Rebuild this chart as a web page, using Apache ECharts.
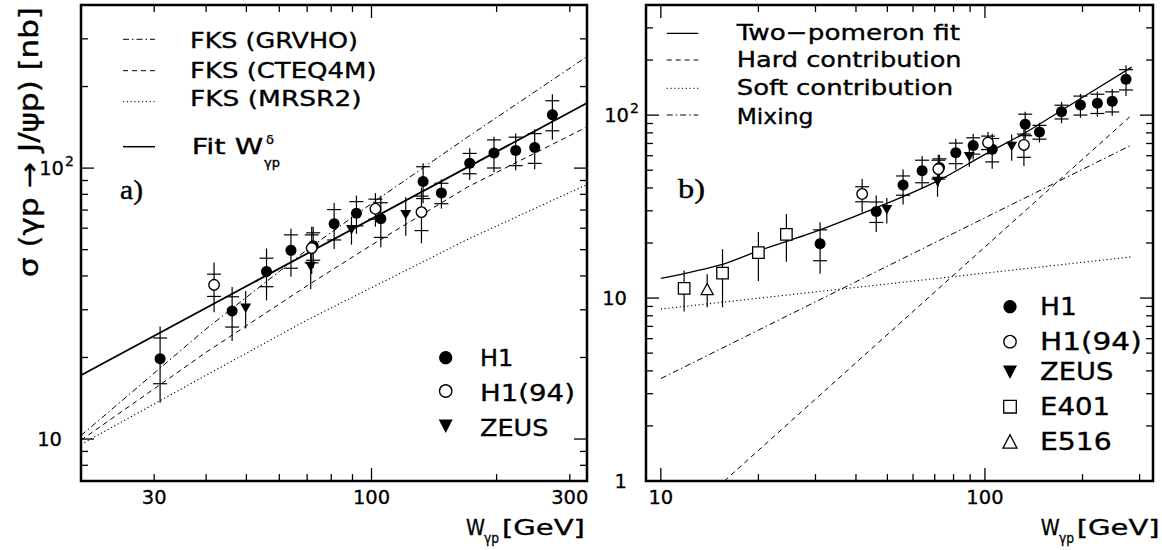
<!DOCTYPE html>
<html><head><meta charset="utf-8">
<script src="https://cdn.jsdelivr.net/npm/echarts@6/dist/echarts.min.js"></script>
<style>html,body{margin:0;padding:0;background:#fff}#c{width:1162px;height:550px}</style>
</head><body><div id="c"></div>
<script>
// ---------------- DATA ----------------
// H1 (filled circles): W [GeV], sigma [nb], stat error, total error
const h1W    = [31.0, 46.2, 55.9, 64.0, 72.4, 81.3, 92.0, 105.3, 133.1, 147.3, 172.3, 197.1, 222.3, 247.0, 272.4];
const h1Sig  = [19.8, 29.7, 41.5, 49.7, 51.7, 62.3, 68.2, 65.0, 89.2, 80.9, 104.3, 113.6, 116.1, 119.1, 157.3];
const h1Stat = [3.8, 3.8, 5.0, 7.0, 6.0, 8.0, 7.0, 9.5, 12, 7, 9, 13.5, 14, 15, 20];
const h1Tot  = [6.2, 6.7, 9.0, 10, 9, 12, 11, 14, 15, 10, 14, 17, 18, 20, 30];
// H1(94) (open circles)
const h194W    = [41.8, 71.8, 102.2, 131.9];
const h194Sig  = [37.1, 50.7, 70.8, 68.8];
const h194Stat = [3.5, 6, 6, 10];
const h194Tot  = [7.7, 10, 10, 16];
// ZEUS (down triangles)
const zeusW   = [49.8, 71.4, 89.5, 120.9];
const zeusSig = [30.4, 43.3, 59.2, 67.3];
const zeusErr = [4.8, 7.5, 7, 11];
// E401 (open squares)
const e401W   = [11.8, 15.5, 20.0, 24.4];
const e401Sig = [11.3, 13.7, 17.7, 22.3];
const e401Err = [2.85, 4.8, 5.3, 6.5];
// E516 (open triangle)
const e516W   = [13.9];
const e516Sig = [11.2];
const e516Err = [2.3];

// Curves, panel a)  [W, sigma]
const fksGrvho = [[20,10.3],[40,25.5],[70,50],[100,74],[170,130],[330,258]];
const fksCteq  = [[20,9.9],[40,20.9],[70,36.8],[100,52],[170,85],[330,142]];
const fksMrsr  = [[20,9.55],[40,17.2],[70,27.5],[100,36.2],[170,54.5],[330,87]];
const fitDelta = [[20,17.2],[330,174]];
// Curves, panel b)
const twoPom  = [[10,12.8],[15.5,15.3],[20,18.1],[31,23.6],[50,33],[72,44],[100,61],[133,80],[172,106],[283.6,183]];
const hardC   = [[15.7,1],[283.6,100]];
const softC   = [[10,8.71],[283.6,16.8]];
const mixC    = [[10,3.63],[283.6,68.7]];

// Axes ranges and ticks
const leftXRange = [20, 330], leftYRange = [7, 400];
const rightXRange = [9, 330], rightYRange = [1, 400];
const leftXMinor = [30,40,50,60,70,80,90,200,300];
const leftXMajor = [100];
const leftYMinor = [8,9,20,30,40,50,60,70,80,90,200,300];
const leftYMajor = [10,100];
const rightXMinor = [20,30,40,50,60,70,80,90,200,300];
const rightXMajor = [10,100];
const rightYMinor = [2,3,4,5,6,7,8,9,20,30,40,50,60,70,80,90,200,300];
const rightYMajor = [10,100];
const leftXLabelVals = [30,100,300];
const leftXLabelText = ['30','100','300'];
const rightXLabelVals = [10,100];
const rightXLabelText = ['10','100'];
const leftYLabelVals = [10,100];
const leftYLabelText = ['10','10²'];
const rightYLabelVals = [1,10,100];
const rightYLabelText = ['1','10','10²'];

// ---------------- HELPERS ----------------
const FONT = '"DejaVu Sans", sans-serif';
const SERIF = '"Liberation Serif", serif';
const ctx2d = document.createElement('canvas').getContext('2d');
function measure(str, size, fam) { ctx2d.font = size + 'px ' + (fam || FONT); return ctx2d.measureText(str).width; }
function T(x, y, str, size, width, opts) {
  opts = opts || {};
  const sx = width ? width / measure(str, size, opts.family) : 1;
  return { type: 'text', x: x, y: y, scaleX: sx, rotation: opts.rotation || 0, z: 20,
    style: { text: str, fontSize: size, fontFamily: opts.family || FONT, fill: '#000',
             stroke: '#000', lineWidth: 0.35,
             align: opts.align || 'left', verticalAlign: 'middle' } };
}
function L(x1, y1, x2, y2, dash, w) {
  return { type: 'line', z: 20, shape: { x1, y1, x2, y2 }, style: { stroke: '#000', lineWidth: w || 1, lineDash: dash || null } };
}
const DASHDOT = [6, 3, 1.5, 3], DASH = [5, 4], DOT = [1.2, 2.6];

function ticks(gi, vals, major, dir, fixed) {
  return { type: 'custom', xAxisIndex: gi, yAxisIndex: gi, silent: true, z: 6, clip: false,
    data: vals.map(v => dir === 'x' ? [v, fixed] : [fixed, v]),
    renderItem(params, api) {
      const cs = params.coordSys, len = major ? 13 : 7, st = { stroke: '#000', lineWidth: 1.3 };
      const p = api.coord([api.value(0), api.value(1)]);
      if (dir === 'x') {
        const x = p[0], b = cs.y + cs.height, t = cs.y;
        return { type: 'group', children: [
          { type: 'line', shape: { x1: x, y1: b, x2: x, y2: b - len }, style: st },
          { type: 'line', shape: { x1: x, y1: t, x2: x, y2: t + len }, style: st } ] };
      }
      const y = p[1], l = cs.x, r = cs.x + cs.width;
      return { type: 'group', children: [
        { type: 'line', shape: { x1: l, y1: y, x2: l + len, y2: y }, style: st },
        { type: 'line', shape: { x1: r, y1: y, x2: r - len, y2: y }, style: st } ] };
    } };
}
function xLabels(gi, vals, texts, fixed) {
  return { type: 'custom', xAxisIndex: gi, yAxisIndex: gi, silent: true, z: 6, clip: false,
    data: vals.map(v => [v, fixed]),
    renderItem(params, api) {
      const cs = params.coordSys, p = api.coord([api.value(0), api.value(1)]);
      return { type: 'text', x: p[0], y: cs.y + cs.height + 6,
        style: { text: texts[params.dataIndex], fontSize: 19.5, fontFamily: FONT, fill: '#000', stroke: '#000', lineWidth: 0.3, align: 'center', verticalAlign: 'top' } };
    } };
}
function yLabels(gi, vals, texts, fixed) {
  return { type: 'custom', xAxisIndex: gi, yAxisIndex: gi, silent: true, z: 6, clip: false,
    data: vals.map(v => [fixed, v]),
    renderItem(params, api) {
      const cs = params.coordSys, p = api.coord([api.value(0), api.value(1)]);
      const t = texts[params.dataIndex];
      const hasSup = t.endsWith('²');
      const base = hasSup ? t.slice(0, -1) : t;
      const ch = [{ type: 'text', x: cs.x - (hasSup ? 17 : 19), y: p[1],
        style: { text: base, fontSize: 19.5, fontFamily: FONT, fill: '#000', stroke: '#000', lineWidth: 0.3, align: 'right', verticalAlign: 'middle' } }];
      if (hasSup) ch.push({ type: 'text', x: cs.x - 16, y: p[1] - 7,
        style: { text: '2', fontSize: 14, fontFamily: FONT, fill: '#000', stroke: '#000', lineWidth: 0.3, align: 'left', verticalAlign: 'middle' } });
      return { type: 'group', children: ch };
    } };
}
function errBars(gi, W, S, stat, tot) {
  return { type: 'custom', xAxisIndex: gi, yAxisIndex: gi, silent: true, z: 3, clip: true,
    data: W.map((w, i) => [w, S[i], stat ? stat[i] : 0, tot[i]]),
    renderItem(params, api) {
      const w = api.value(0), s = api.value(1), st = api.value(2), tt = api.value(3);
      const sty = { stroke: '#000', lineWidth: 1.2 };
      const a = api.coord([w, s + tt]), b = api.coord([w, s - tt]);
      const ch = [{ type: 'line', shape: { x1: a[0], y1: a[1], x2: b[0], y2: b[1] }, style: sty }];
      if (st > 0) {
        const u = api.coord([w, s + st]), d = api.coord([w, s - st]);
        ch.push({ type: 'line', shape: { x1: u[0] - 7, y1: u[1], x2: u[0] + 7, y2: u[1] }, style: sty });
        ch.push({ type: 'line', shape: { x1: d[0] - 7, y1: d[1], x2: d[0] + 7, y2: d[1] }, style: sty });
      }
      return { type: 'group', children: ch };
    } };
}
function pts(W, S) { return W.map((w, i) => [w, S[i]]); }
function scat(gi, W, S, sym, size, filled, rot) {
  return { type: 'scatter', xAxisIndex: gi, yAxisIndex: gi, data: pts(W, S), symbol: sym, symbolSize: size,
    symbolRotate: rot || 0, silent: true, z: 4,
    itemStyle: filled ? { color: '#000', opacity: 1 } : { color: '#fff', borderColor: '#000', borderWidth: 1.3, opacity: 1 } };
}
function curve(gi, data, type, width, smooth) {
  return { type: 'line', xAxisIndex: gi, yAxisIndex: gi, data, showSymbol: false, symbol: 'none', silent: true,
    smooth: smooth || false, clip: true, z: 2, lineStyle: { color: '#000', width, type } };
}

// ---------------- GRAPHIC (legends, titles) ----------------
function mkCircle(cx, cy, filled) {
  return { type: 'circle', z: 20, shape: { cx, cy, r: filled ? 6.6 : 6.2 },
    style: filled ? { fill: '#000' } : { fill: '#fff', stroke: '#000', lineWidth: 1.3 } };
}
function mkTriDown(cx, cy) {
  return { type: 'polygon', z: 20, shape: { points: [[cx - 7, cy - 6.5], [cx + 7, cy - 6.5], [cx, cy + 7]] }, style: { fill: '#000' } };
}
function mkTriUp(cx, cy) {
  return { type: 'polygon', z: 20, shape: { points: [[cx - 7, cy + 6.5], [cx + 7, cy + 6.5], [cx, cy - 7]] }, style: { fill: '#fff', stroke: '#000', lineWidth: 1.3 } };
}
function mkSquare(cx, cy) {
  return { type: 'rect', z: 20, shape: { x: cx - 6.3, y: cy - 6.3, width: 12.6, height: 12.6 }, style: { fill: '#fff', stroke: '#000', lineWidth: 1.3 } };
}

const graphics = [
  // panel a legend (lines)
  L(123, 39.3, 155, 39.3, DASHDOT), T(190, 40.5, 'FKS (GRVHO)', 21, 168),
  L(123, 70.7, 155, 70.7, DASH),    T(190, 70.5, 'FKS (CTEQ4M)', 21, 186.7),
  L(123, 101.7, 155, 101.7, DOT),   T(190, 99, 'FKS (MRSR2)', 21, 171.7),
  L(123, 146.7, 155, 146.7, null, 1.5), T(191.7, 147, 'Fit W', 21, 71.6),
  T(266, 139, 'δ', 13), T(264, 162, 'γp', 13),
  T(120, 190, 'a)', 27, 23, { family: SERIF }),
  // panel a legend (markers)
  mkCircle(445.7, 357.7, true), T(480, 358, 'H1', 23, 33.3),
  mkCircle(445.7, 391, false),  T(480, 393, 'H1(94)', 23, 95),
  mkTriDown(445.7, 426),        T(480, 427.5, 'ZEUS', 23, 68.3),
  // y title
  T(29, 142, 'σ (γp → J/ψp) [nb]', 26, 270, { rotation: Math.PI / 2, align: 'center' }),
  // x titles
  T(466, 527.5, 'W', 22, 19), T(484, 538, 'γp', 14, 15), T(502, 527.5, '[GeV]', 22, 83),
  T(1040.7, 527.5, 'W', 22, 19), T(1059, 538, 'γp', 14, 15), T(1076.7, 527.5, '[GeV]', 22, 83),
  // panel b legend (lines)
  L(666.7, 33.3, 698.3, 33.3, null, 1.3), T(736.7, 33, 'Two−pomeron fit', 21.5, 223.3),
  L(666.7, 60, 698.3, 60, DASH),          T(736.7, 60, 'Hard contribution', 21.5, 225),
  L(666.7, 88.3, 698.3, 88.3, DOT),       T(736.7, 87.5, 'Soft contribution', 21.5, 216.7),
  L(666.7, 115, 698.3, 115, DASHDOT),     T(736.7, 116, 'Mixing', 21.5, 76.7),
  T(678, 188, 'b)', 27, 27, { family: SERIF }),
  // panel b legend (markers)
  mkCircle(1010, 306.7, true), T(1040, 306.7, 'H1', 24, 36.7),
  mkCircle(1010, 341.7, false), T(1040, 341.7, 'H1(94)', 24, 101.7),
  mkTriDown(1010, 372),        T(1040, 372, 'ZEUS', 24, 73.3),
  mkSquare(1010, 406.7),       T(1040, 406.7, 'E401', 24, 70),
  mkTriUp(1010, 441.7),        T(1040, 441.7, 'E516', 24, 71.7)
];

// ---------------- OPTION ----------------
const axisCommon = { type: 'log', logBase: 10, show: false, splitLine: { show: false } };
const option = {
  animation: false,
  backgroundColor: '#fff',
  grid: [
    { left: 81, top: 5, width: 506, height: 476, show: true, borderColor: '#000', borderWidth: 2.5, backgroundColor: 'transparent' },
    { left: 646, top: 5, width: 507, height: 476, show: true, borderColor: '#000', borderWidth: 2.5, backgroundColor: 'transparent' }
  ],
  xAxis: [
    Object.assign({ gridIndex: 0, min: leftXRange[0], max: leftXRange[1] }, axisCommon),
    Object.assign({ gridIndex: 1, min: rightXRange[0], max: rightXRange[1] }, axisCommon)
  ],
  yAxis: [
    Object.assign({ gridIndex: 0, min: leftYRange[0], max: leftYRange[1] }, axisCommon),
    Object.assign({ gridIndex: 1, min: rightYRange[0], max: rightYRange[1] }, axisCommon)
  ],
  series: [
    // panel a
    curve(0, fksGrvho, DASHDOT, 1),
    curve(0, fksCteq, DASH, 1),
    curve(0, fksMrsr, DOT, 1.1),
    curve(0, fitDelta, 'solid', 1.8),
    errBars(0, h1W, h1Sig, h1Stat, h1Tot),
    errBars(0, h194W, h194Sig, h194Stat, h194Tot),
    errBars(0, zeusW, zeusSig, null, zeusErr),
    scat(0, h1W, h1Sig, 'circle', 11, true),
    scat(0, h194W, h194Sig, 'circle', 10.5, false),
    scat(0, zeusW, zeusSig, 'triangle', [11, 9.5], true, 180),
    ticks(0, leftXMinor, false, 'x', leftYRange[0]),
    ticks(0, leftXMajor, true, 'x', leftYRange[0]),
    ticks(0, leftYMinor, false, 'y', leftXRange[0]),
    ticks(0, leftYMajor, true, 'y', leftXRange[0]),
    xLabels(0, leftXLabelVals, leftXLabelText, leftYRange[0]),
    yLabels(0, leftYLabelVals, leftYLabelText, leftXRange[0]),
    // panel b
    curve(1, twoPom, 'solid', 1.3, 0.3),
    curve(1, hardC, DASH, 1),
    curve(1, softC, DOT, 1.1),
    curve(1, mixC, DASHDOT, 1),
    errBars(1, h1W, h1Sig, h1Stat, h1Tot),
    errBars(1, h194W, h194Sig, h194Stat, h194Tot),
    errBars(1, zeusW, zeusSig, null, zeusErr),
    errBars(1, e401W, e401Sig, null, e401Err),
    errBars(1, e516W, e516Sig, null, e516Err),
    scat(1, h1W, h1Sig, 'circle', 11, true),
    scat(1, h194W, h194Sig, 'circle', 10.5, false),
    scat(1, zeusW, zeusSig, 'triangle', [11, 9.5], true, 180),
    scat(1, e401W, e401Sig, 'rect', 11.5, false),
    scat(1, e516W, e516Sig, 'triangle', [12, 11], false),
    ticks(1, rightXMinor, false, 'x', rightYRange[0]),
    ticks(1, rightXMajor, true, 'x', rightYRange[0]),
    ticks(1, rightYMinor, false, 'y', rightXRange[0]),
    ticks(1, rightYMajor, true, 'y', rightXRange[0]),
    xLabels(1, rightXLabelVals, rightXLabelText, rightYRange[0]),
    yLabels(1, rightYLabelVals, rightYLabelText, rightXRange[0])
  ],
  graphic: graphics
};
const chart = echarts.init(document.getElementById('c'), null, { renderer: 'svg' });
chart.setOption(option);
</script>
</body></html>
